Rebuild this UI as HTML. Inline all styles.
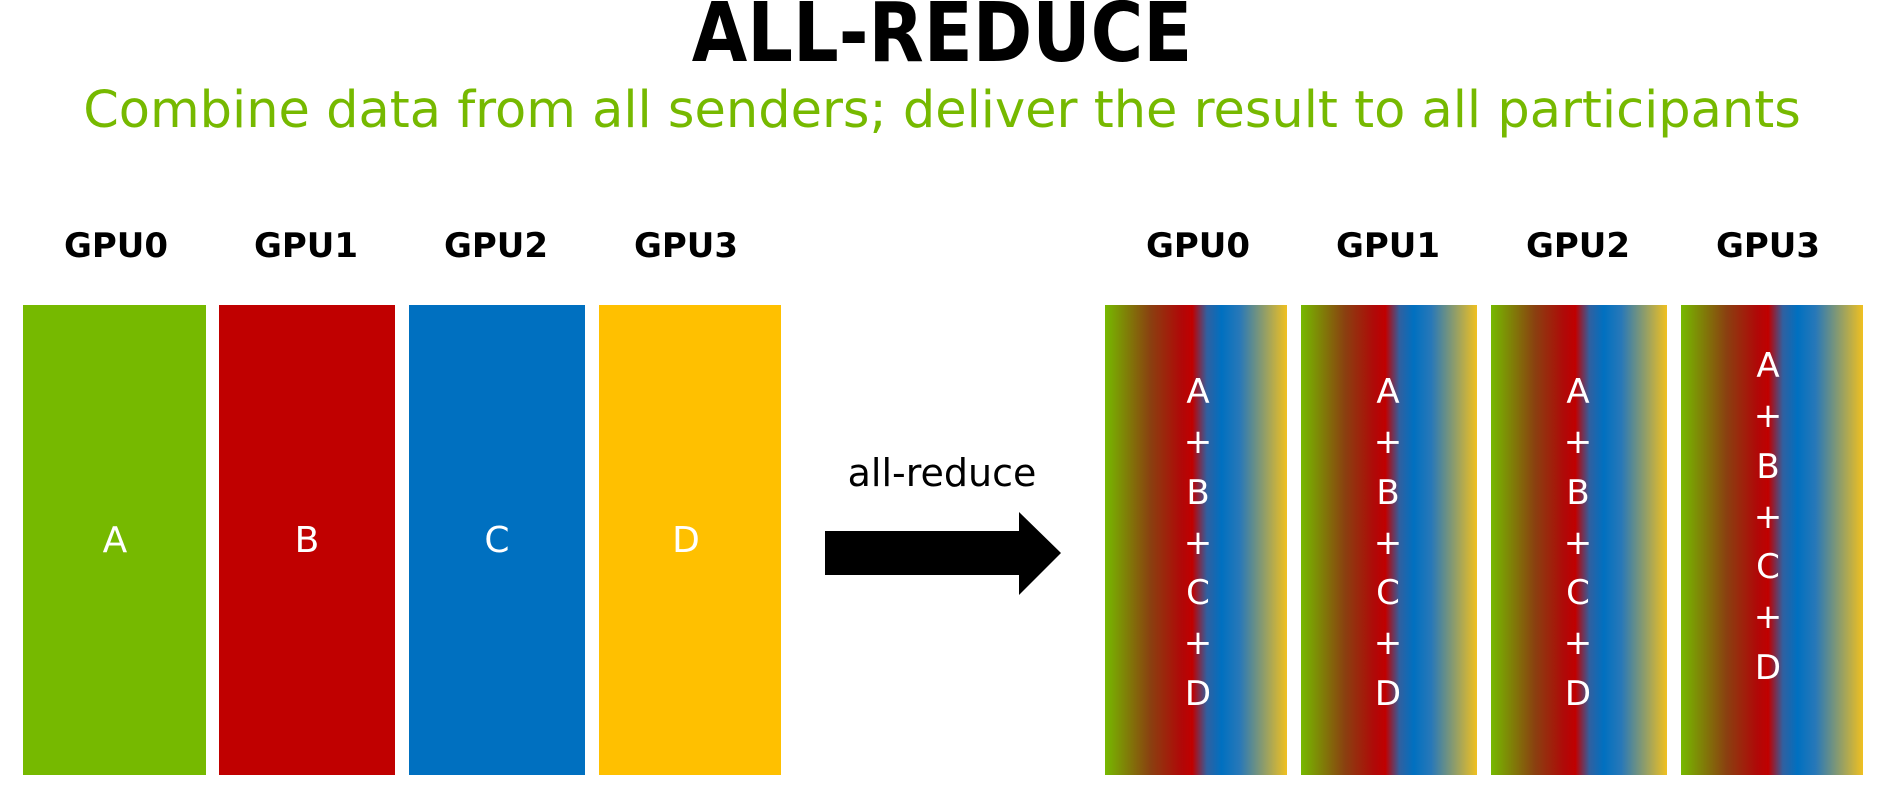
<!DOCTYPE html>
<html><head><style>
html,body{margin:0;padding:0;background:#fff;width:1885px;height:802px;overflow:hidden;position:relative;font-family:"DejaVu Sans","Liberation Sans",sans-serif}
.t{position:absolute;white-space:nowrap;transform:translateX(-50%)}
.b{position:absolute;top:305px;height:470px}
.g{background:linear-gradient(to right,#76b900 0%,#8a4010 25%,#b00808 42%,#c00000 48%,#3060a0 56%,#0070c0 64%,#2878b8 74%,#f0c020 100%)}
.col{position:absolute;transform:translateX(-50%);color:#fff;font-size:34px;text-align:center;line-height:50.3px}
</style></head><body>
<div class="t" style="left:942px;top:-14px;font-size:82px;font-weight:bold;transform:translateX(-50%) scaleX(0.875)">ALL-REDUCE</div>
<div class="t" style="left:942px;top:81px;font-size:51px;color:#76b900">Combine data from all senders; deliver the result to all participants</div>

<div class="t" style="left:116px;top:226px;font-size:34px;font-weight:bold">GPU0</div>
<div class="t" style="left:306px;top:226px;font-size:34px;font-weight:bold">GPU1</div>
<div class="t" style="left:496px;top:226px;font-size:34px;font-weight:bold">GPU2</div>
<div class="t" style="left:686px;top:226px;font-size:34px;font-weight:bold">GPU3</div>
<div class="t" style="left:1198px;top:226px;font-size:34px;font-weight:bold">GPU0</div>
<div class="t" style="left:1388px;top:226px;font-size:34px;font-weight:bold">GPU1</div>
<div class="t" style="left:1578px;top:226px;font-size:34px;font-weight:bold">GPU2</div>
<div class="t" style="left:1768px;top:226px;font-size:34px;font-weight:bold">GPU3</div>

<div class="b" style="left:23px;width:183px;background:#76b900"></div>
<div class="b" style="left:219px;width:176px;background:#c00000"></div>
<div class="b" style="left:409px;width:176px;background:#0070c0"></div>
<div class="b" style="left:599px;width:182px;background:#ffc000"></div>
<div class="t" style="left:115px;top:520px;font-size:36px;color:#fff">A</div>
<div class="t" style="left:307px;top:520px;font-size:36px;color:#fff">B</div>
<div class="t" style="left:497px;top:520px;font-size:36px;color:#fff">C</div>
<div class="t" style="left:686px;top:520px;font-size:36px;color:#fff">D</div>

<div class="t" style="left:942px;top:451px;font-size:38px">all-reduce</div>
<svg style="position:absolute;left:0;top:0" width="1885" height="802"><polygon points="825,531 1019,531 1019,512 1061,553 1019,595 1019,575 825,575" fill="#000"/></svg>

<div class="b g" style="left:1105px;width:182px"></div>
<div class="b g" style="left:1301px;width:176px"></div>
<div class="b g" style="left:1491px;width:176px"></div>
<div class="b g" style="left:1681px;width:182px"></div>
<div class="col" style="left:1198px;top:367px">A<br>+<br>B<br>+<br>C<br>+<br>D</div>
<div class="col" style="left:1388px;top:367px">A<br>+<br>B<br>+<br>C<br>+<br>D</div>
<div class="col" style="left:1578px;top:367px">A<br>+<br>B<br>+<br>C<br>+<br>D</div>
<div class="col" style="left:1768px;top:341px">A<br>+<br>B<br>+<br>C<br>+<br>D</div>
</body></html>
